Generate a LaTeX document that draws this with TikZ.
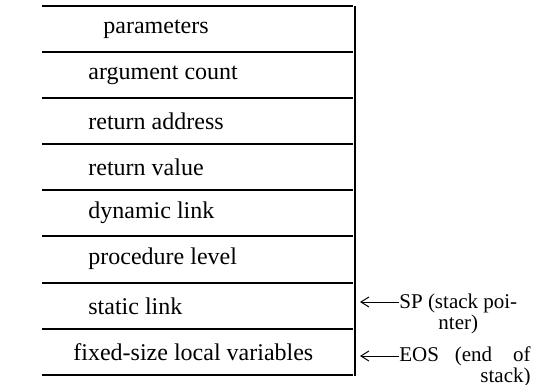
\documentclass[tikz,border=0pt]{standalone}
\usepackage{fontspec}
\setmainfont{Liberation Serif}
\usetikzlibrary{arrows.meta}

\begin{document}
\begin{tikzpicture}[x=0.5pt,y=-0.5pt,font=\fontsize{12}{14}\selectfont,
    entry/.style={anchor=west,inner sep=0pt},
    note/.style={anchor=north west,inner sep=0pt,font=\fontsize{10.5}{10.5}\selectfont},
    ptr/.style={{Straight Barb[length=4pt,width=5pt]}-,line width=0.5pt}]
    \useasboundingbox (0,0) rectangle (557,385);

    \path (103,29) node [entry] (par) {parameters};
    \path (88,75) node [entry] (argc) {argument count};
    \path (88,121) node [entry] (ret) {return address};
    \path (88,167) node [entry] (rval) {return value};
    \path (88,213) node [entry] (dyn) {dynamic link};
    \path (88,259) node [entry] (lev) {procedure level};
    \path (88,306) node [entry] (stat) {static link};
    \path (73,352) node [entry] (loc) {fixed-size local variables};

    \draw [line width=0.6pt] (42,6) -- (353,6);
    \draw [line width=0.6pt] (42,52) -- (353,52);
    \draw [line width=0.6pt] (42,98) -- (353,98);
    \draw [line width=0.6pt] (42,144) -- (353,144);
    \draw [line width=0.6pt] (42,190) -- (353,190);
    \draw [line width=0.6pt] (42,236) -- (353,236);
    \draw [line width=0.6pt] (42,283) -- (353,283);
    \draw [line width=0.6pt] (42,329) -- (353,329);
    \draw [line width=0.6pt] (42,375) -- (353,375);
    \draw [line width=0.6pt] (355,6) -- (355,376);

    \path (399,294) node [note,align=center] (sp) {SP (stack poi-\\nter)};
    \coordinate (spt) at (360,302);
    \draw [ptr] (spt) -- (spt -| sp.west);
    \path (399,346) node [note,align=right] (eos) {EOS\ \ \ (end\ \ \ \ of\\stack)};
    \coordinate (eost) at (360,356);
    \draw [ptr] (eost) -- (eost -| eos.west);
\end{tikzpicture}
\end{document}
